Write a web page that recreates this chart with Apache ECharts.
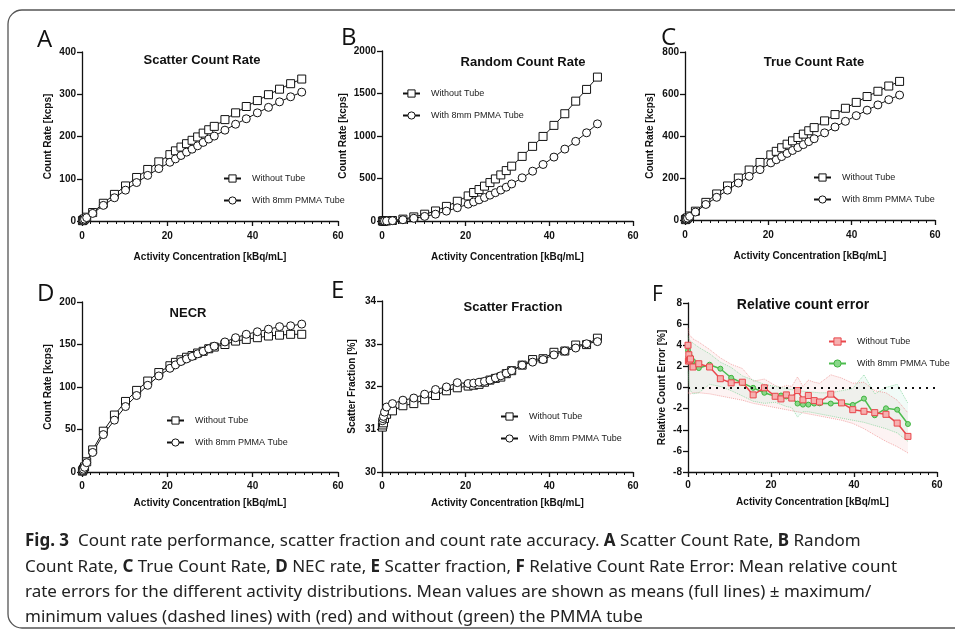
<!DOCTYPE html>
<html><head><meta charset="utf-8">
<script src="https://cdn.jsdelivr.net/npm/echarts@6.0.0/dist/echarts.min.js"></script>
<style>html,body{margin:0;padding:0;background:#fff}#c{width:955px;height:630px}</style>
</head><body><div id="c"></div>
<script>
// Activity concentrations [kBq/mL] (panels A–E)
const X = [0.1, 0.2, 0.35, 0.6, 1.1, 2.5, 5.0, 7.6, 10.2, 12.8, 15.4, 18.0, 20.6, 21.9, 23.2, 24.5, 25.8, 27.1, 28.4, 29.7, 31.0, 33.5, 36.0, 38.5, 41.1, 43.7, 46.3, 48.9, 51.5];
// A Scatter count rate [kcps]
const scatterWithout = [0.8, 1.6, 2.8, 4.9, 9, 20, 42, 63, 83, 103, 122, 140, 157, 166, 175, 183, 191, 199, 208, 216, 224, 240, 256, 271, 285, 299, 312, 325, 336];
const scatterWith = [0.7, 1.4, 2.5, 4.3, 8, 18, 37, 55, 73, 91, 108, 124, 139, 147, 155, 163, 170, 178, 186, 194, 201, 215, 229, 242, 256, 269, 282, 294, 305];
// B Random count rate [kcps]
const randomWithout = [0, 0, 0, 0.2, 1, 6, 22, 48, 80, 118, 172, 232, 295, 335, 370, 410, 452, 495, 542, 593, 645, 760, 878, 995, 1125, 1262, 1410, 1548, 1693];
const randomWith = [0, 0, 0, 0.1, 1, 4, 15, 32, 54, 80, 116, 156, 198, 224, 249, 276, 304, 333, 364, 398, 436, 508, 586, 665, 752, 846, 937, 1038, 1143];
// C True count rate [kcps]
const trueWithout = [1.7, 3.4, 6, 10, 19, 42, 84, 124, 162, 200, 238, 274, 310, 327, 344, 361, 377, 393, 409, 425, 440, 472, 502, 532, 560, 588, 613, 638, 660];
const trueWith = [1.5, 3, 5.3, 9, 17, 38, 74, 108, 142, 176, 208, 240, 272, 287, 302, 317, 331, 345, 359, 373, 387, 415, 443, 470, 497, 523, 548, 573, 595];
// D NECR [kcps]
const necrWithout = [1, 2, 3.5, 6, 12, 26, 48, 67, 83, 96, 107, 117, 125, 129, 132, 135, 137, 140, 142, 145, 147, 150, 154, 156, 158, 160, 161, 162, 162];
const necrWith = [0.9, 1.8, 3.2, 5.5, 11, 23, 44, 61, 77, 90, 102, 113, 122, 126, 130, 133, 136, 139, 142, 145, 148, 153, 158, 162, 165, 168, 171, 172, 174];
// E Scatter fraction [%]
const sfWithout = [31.05, 31.1, 31.15, 31.25, 31.35, 31.43, 31.55, 31.6, 31.69, 31.79, 31.9, 31.97, 32.01, 32.03, 32.05, 32.1, 32.15, 32.19, 32.22, 32.3, 32.37, 32.5, 32.63, 32.65, 32.8, 32.83, 32.97, 32.98, 33.13];
const sfWith = [31.2, 31.25, 31.3, 31.4, 31.52, 31.6, 31.68, 31.73, 31.82, 31.93, 31.99, 32.09, 32.07, 32.08, 32.1, 32.12, 32.15, 32.2, 32.25, 32.31, 32.37, 32.5, 32.57, 32.63, 32.74, 32.83, 32.9, 33.0, 33.05];
// F Relative count error [%]
const FX = [0, 0.1, 0.2, 0.35, 0.6, 1.2, 2.6, 5.2, 7.8, 10.4, 13.1, 15.7, 18.4, 21.0, 22.4, 23.7, 25.0, 26.4, 27.7, 29.0, 30.4, 31.7, 34.4, 37.0, 39.7, 42.4, 45.0, 47.7, 50.4, 53.0];
const errWithout = [4.0, 2.5, 3.1, 2.6, 2.7, 1.94, 2.25, 1.94, 0.83, 0.44, 0.5, -0.7, -0.03, -0.83, -1.08, -0.7, -1.0, -0.29, -1.17, -0.76, -1.24, -1.37, -0.63, -1.46, -2.1, -2.25, -2.38, -2.54, -3.37, -4.63];
const errWith = [3.5, 2.9, 3.2, 2.8, 2.9, 2.5, 1.84, 2.16, 1.78, 0.92, 0.44, -0.03, -0.5, -0.83, -0.76, -0.85, -1.0, -1.52, -1.62, -1.62, -1.52, -1.5, -1.52, -1.46, -1.65, -1.05, -2.63, -1.97, -2.1, -3.46];
const errWithoutMax = [5.6, 5.4, 5.2, 5.0, 4.9, 4.6, 4.3, 3.6, 2.8, 2.2, 1.8, 0.6, 0.8, 0.2, 0.0, 0.2, 0.1, 1.0, 0.1, 0.7, 0.5, 0.4, 1.2, 0.9, 0.4, 0.5, -0.3, -0.5, -1.2, -2.4];
const errWithoutMin = [-0.5, -0.6, -0.6, -0.6, -0.6, -0.5, -0.5, -0.6, -0.8, -1.0, -1.2, -1.5, -1.7, -1.9, -2.0, -2.1, -2.2, -2.3, -2.4, -2.5, -2.6, -2.7, -2.9, -3.1, -3.4, -3.9, -4.5, -5.1, -5.6, -6.2];
const errWithMax = [4.9, 4.7, 4.6, 4.5, 4.4, 4.2, 3.8, 3.2, 2.4, 1.9, 1.1, 0.7, 0.3, 0.1, 0.0, -0.1, -0.2, -0.3, -0.35, -0.4, -0.45, -0.5, -0.5, -0.3, -0.1, 1.2, -0.6, 0.0, 0.3, -1.5];
const errWithMin = [1.5, 1.2, 0.5, 0.0, -0.3, -0.6, -0.5, 0.3, 0.1, -0.3, -0.8, -1.3, -1.5, -1.4, -1.6, -1.8, -1.9, -2.8, -2.3, -2.3, -2.4, -2.5, -2.7, -2.9, -3.1, -3.3, -3.6, -3.9, -4.3, -5.1];

// Texts
const panelLetters = ['A', 'B', 'C', 'D', 'E', 'F'];
const panelTitles = ['Scatter Count Rate', 'Random Count Rate', 'True Count Rate', 'NECR', 'Scatter Fraction', 'Relative count error'];
const yNames = ['Count Rate [kcps]', 'Count Rate [kcps]', 'Count Rate [kcps]', 'Count Rate [kcps]', 'Scatter Fraction [%]', 'Relative Count Error [%]'];
const xName = 'Activity Concentration [kBq/mL]';
const seriesNames = ['Without Tube', 'With 8mm PMMA Tube'];
const yMin = [0, 0, 0, 0, 30, -8];
const yMax = [400, 2000, 800, 200, 34, 8];
const yStep = [100, 500, 200, 50, 1, 2];
const captionLines = [
  '{b|Fig. 3}  Count rate performance, scatter fraction and count rate accuracy. {b|A} Scatter Count Rate, {b|B} Random',
  'Count Rate, {b|C} True Count Rate, {b|D} NEC rate, {b|E} Scatter fraction, {b|F} Relative Count Rate Error: Mean relative count',
  'rate errors for the different activity distributions. Mean values are shown as means (full lines) \u00b1 maximum/',
  'minimum values (dashed lines) with (red) and without (green) the PMMA tube'
];

const FONT = "'Liberation Sans', Arial, sans-serif";
const CAPFONT = "'Noto Sans', sans-serif";
const grids = [
  {left: 82, top: 52, width: 256, height: 169},
  {left: 382, top: 51, width: 251, height: 170},
  {left: 685, top: 52, width: 250, height: 168},
  {left: 82, top: 302, width: 256, height: 170},
  {left: 382, top: 301, width: 251, height: 171},
  {left: 688, top: 303, width: 249, height: 169}
];
const yNameGap = [29, 34, 30, 29, 25, 21];
const xNameGap = [31, 31, 31, 26, 26, 25];
const xLabelMargin = [10, 10, 10, 9, 9, 8];
const titlePos = [[202, 60], [523, 62], [814, 62], [188, 313], [513, 307], [803, 305]];
const titleSize = [13, 13, 13, 13, 13, 14];
const letterPos = [[37, 40], [341, 38], [661, 38], [37, 294], [331, 291], [652, 295]];
const letterSize = [24, 24, 24, 24, 24, 21];
const legendPos = [[218, 169], [397, 84], [808, 168], [161, 411], [495, 407], [823, 332]];

const pair = (xs, ys) => xs.map((x, i) => [x, ys[i]]);
const panelData = [
  [scatterWithout, scatterWith], [randomWithout, randomWith], [trueWithout, trueWith],
  [necrWithout, necrWith], [sfWithout, sfWith]
];

const xAxes = [], yAxes = [], series = [], legends = [], graphics = [];
for (let i = 0; i < 6; i++) {
  xAxes.push({
    type: 'value', gridIndex: i, min: 0, max: 60, interval: 20,
    axisLine: {show: true, onZero: false, lineStyle: {color: '#111', width: 1.3}},
    axisTick: {show: true, length: 5, lineStyle: {color: '#111', width: 1.3}},
    minorTick: {show: true, splitNumber: 10, length: 3, lineStyle: {color: '#111', width: 1}},
    splitLine: {show: false},
    axisLabel: {margin: xLabelMargin[i], fontFamily: FONT, fontSize: 10, fontWeight: 'bold', color: '#111'},
    name: xName, nameLocation: 'middle', nameGap: xNameGap[i],
    nameTextStyle: {fontFamily: FONT, fontSize: 10, fontWeight: 'bold', color: '#111'}
  });
  yAxes.push({
    type: 'value', gridIndex: i, min: yMin[i], max: yMax[i], interval: yStep[i],
    axisLine: {show: true, onZero: false, lineStyle: {color: '#111', width: 1.3}},
    axisTick: {show: true, length: 5, lineStyle: {color: '#111', width: 1.3}},
    splitLine: {show: false},
    axisLabel: {margin: 6, fontFamily: FONT, fontSize: 10, fontWeight: 'bold', color: '#111', formatter: v => String(v)},
    name: yNames[i], nameLocation: 'middle', nameGap: yNameGap[i],
    nameTextStyle: {fontFamily: FONT, fontSize: 10, fontWeight: 'bold', color: '#111'}
  });
  const names = seriesNames.map(n => n + '|' + i);
  legends.push({
    left: legendPos[i][0], top: legendPos[i][1], orient: 'vertical',
    itemWidth: 17, itemHeight: 9, itemGap: 13, data: names,
    formatter: n => n.split('|')[0], selectedMode: false,
    itemStyle: {borderWidth: 1},
    textStyle: {fontFamily: FONT, fontSize: 9, color: '#222', padding: [0, 0, 0, 6]}
  });
  graphics.push({type: 'text', x: letterPos[i][0], y: letterPos[i][1],
    style: {text: panelLetters[i], fontFamily: "'Open Sans', sans-serif", fontSize: letterSize[i], fill: '#111', textVerticalAlign: 'middle'}});
  graphics.push({type: 'text', x: titlePos[i][0], y: titlePos[i][1],
    style: {text: panelTitles[i], fontFamily: FONT, fontWeight: 'bold', fontSize: titleSize[i], fill: '#111', textAlign: 'center', textVerticalAlign: 'middle'}});
  if (i < 5) {
    const [w, wt] = panelData[i];
    series.push({
      type: 'line', name: names[0], xAxisIndex: i, yAxisIndex: i, data: pair(X, w),
      symbol: 'rect', symbolSize: 8, lineStyle: {color: '#111', width: 1},
      itemStyle: {color: '#fff', borderColor: '#111', borderWidth: 1}, animation: false
    });
    series.push({
      type: 'line', name: names[1], xAxisIndex: i, yAxisIndex: i, data: pair(X, wt),
      symbol: 'circle', symbolSize: 8, lineStyle: {color: '#111', width: 1},
      itemStyle: {color: '#fff', borderColor: '#111', borderWidth: 1}, animation: false
    });
  }
}

// Panel F bands
function band(upper, lower, fill) {
  return {
    type: 'custom', xAxisIndex: 5, yAxisIndex: 5, data: [[0, 0]], silent: true, z: 1,
    renderItem: (params, api) => {
      const pts = upper.map((v, k) => api.coord([FX[k], v]));
      const low = lower.map((v, k) => api.coord([FX[k], v])).reverse();
      return {type: 'polygon', shape: {points: pts.concat(low)}, style: {fill: fill}};
    }, animation: false
  };
}
series.push(band(errWithoutMax, errWithoutMin, 'rgba(240,140,140,0.10)'));
series.push(band(errWithMax, errWithMin, 'rgba(120,220,180,0.10)'));
const dotted = (ys, col) => ({
  type: 'line', xAxisIndex: 5, yAxisIndex: 5, data: pair(FX, ys), showSymbol: false, symbol: 'none',
  lineStyle: {color: col, width: 1, type: 'dotted'}, z: 2, silent: true, animation: false
});
series.push(dotted(errWithoutMax, 'rgba(235,120,120,0.6)'));
series.push(dotted(errWithoutMin, 'rgba(235,120,120,0.6)'));
series.push(dotted(errWithMax, 'rgba(100,205,130,0.6)'));
series.push(dotted(errWithMin, 'rgba(100,205,130,0.6)'));
series.push({
  type: 'line', name: seriesNames[0] + '|5', xAxisIndex: 5, yAxisIndex: 5, data: pair(FX, errWithout),
  symbol: 'rect', symbolSize: 6, z: 4, lineStyle: {color: '#e9474c', width: 1.5},
  itemStyle: {color: '#f6b0b0', borderColor: '#e9474c', borderWidth: 1}, animation: false,
  markLine: {silent: true, symbol: 'none', label: {show: false},
    lineStyle: {color: '#111', type: [2, 5], width: 1.8}, data: [{yAxis: 0}]}
});
series.push({
  type: 'line', name: seriesNames[1] + '|5', xAxisIndex: 5, yAxisIndex: 5, data: pair(FX, errWith),
  symbol: 'circle', symbolSize: 5, z: 3, lineStyle: {color: '#4dbd4f', width: 1.5},
  itemStyle: {color: '#8ad88a', borderColor: '#3fb43f', borderWidth: 1}, animation: false
});

// Frame and caption
graphics.unshift({type: 'rect', shape: {x: 8, y: 10, width: 1000, height: 618, r: 14},
  style: {fill: 'none', stroke: '#555', lineWidth: 1.3}});
const capY = [541, 567, 592, 617];
captionLines.forEach((t, k) => graphics.push({
  type: 'text', x: 25, y: capY[k],
  style: {text: t, fontFamily: CAPFONT, fontSize: 17, fill: '#222',
    textVerticalAlign: 'middle', rich: {b: {fontWeight: 'bold', fontFamily: CAPFONT, fontSize: 17, fill: '#222'}}}
}));

const chart = echarts.init(document.getElementById('c'), null, {renderer: 'canvas'});
chart.setOption({
  animation: false, backgroundColor: '#fff',
  grid: grids, xAxis: xAxes, yAxis: yAxes, legend: legends, series: series, graphic: graphics
});
</script></body></html>
